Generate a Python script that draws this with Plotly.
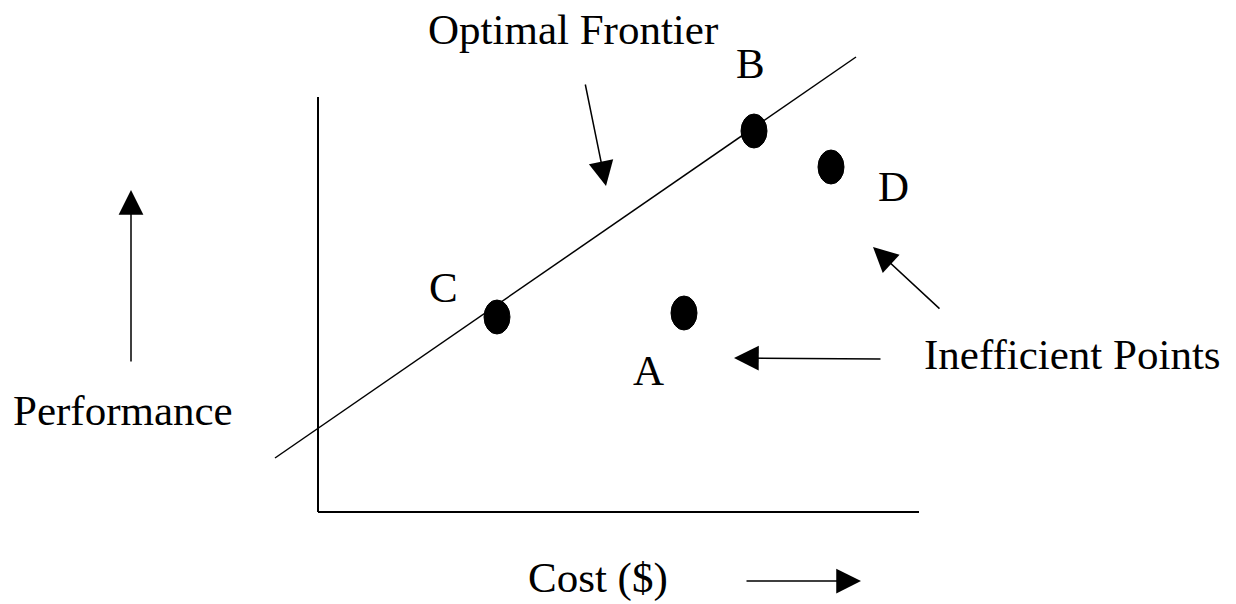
import plotly.graph_objects as go

# Points (pixel-like diagram coordinates, y grows downward)
point_names = ["C", "A", "B", "D"]
point_x = [497, 684, 754, 831]
point_y = [317, 313, 131, 167]

# Labels for points
label_text = ["B", "D", "C", "A"]
label_x = [750, 893, 443, 648]
label_y = [63, 186, 287, 370]

# Frontier line endpoints
frontier_x = [275, 856]
frontier_y = [458, 57]

# Axes lines
axis_v_x = [318, 318]
axis_v_y = [97, 512]
axis_h_x = [318, 919]
axis_h_y = [512, 512]

# Titles
title_text = ["Optimal Frontier", "Inefficient Points", "Performance", "Cost ($)"]
title_x = [573, 1072, 123, 598]
title_y = [29, 354, 410, 578]

# Arrows: tail -> head
arrow_tail_x = [585, 941, 882, 131, 745]
arrow_tail_y = [83, 310, 359, 363, 581]
arrow_head_x = [606, 873, 734, 131, 861]
arrow_head_y = [186, 247, 358, 190, 581]

FONT = "Liberation Serif, Times New Roman, serif"
FS = 43

fig = go.Figure()

fig.add_trace(go.Scatter(x=frontier_x, y=frontier_y, mode="lines",
                         line=dict(color="black", width=1.5), hoverinfo="skip"))
fig.add_trace(go.Scatter(x=axis_v_x, y=axis_v_y, mode="lines",
                         line=dict(color="black", width=2), hoverinfo="skip"))
fig.add_trace(go.Scatter(x=axis_h_x, y=axis_h_y, mode="lines",
                         line=dict(color="black", width=2), hoverinfo="skip"))

# elliptical dots
RX, RY = 13, 17
for px, py in zip(point_x, point_y):
    fig.add_shape(type="circle", xref="x", yref="y",
                  x0=px - RX, x1=px + RX, y0=py - RY, y1=py + RY,
                  fillcolor="black", line=dict(color="black", width=1))

for t, x, y in zip(label_text, label_x, label_y):
    fig.add_annotation(x=x, y=y, text=t, showarrow=False,
                       xanchor="center", yanchor="middle",
                       font=dict(family=FONT, size=FS, color="black"))

for t, x, y in zip(title_text, title_x, title_y):
    fig.add_annotation(x=x, y=y, text=t, showarrow=False,
                       xanchor="center", yanchor="middle",
                       font=dict(family=FONT, size=FS, color="black"))

for tx, ty, hx, hy in zip(arrow_tail_x, arrow_tail_y, arrow_head_x, arrow_head_y):
    fig.add_annotation(x=hx, y=hy, ax=tx, ay=ty, xref="x", yref="y",
                       axref="x", ayref="y", text="", showarrow=True,
                       arrowhead=2, arrowsize=3.3, arrowwidth=1.5,
                       arrowcolor="black", standoff=0, startstandoff=0)

fig.update_xaxes(range=[0, 1236], visible=False, fixedrange=True)
fig.update_yaxes(range=[604, 0], visible=False, fixedrange=True)
fig.update_layout(width=1236, height=604,
                  margin=dict(l=0, r=0, t=0, b=0),
                  paper_bgcolor="white", plot_bgcolor="white", showlegend=False)

fig.write_html("out.html",
               config={"displayModeBar": False, "staticPlot": True},
               post_script="document.body.style.margin='0px';document.body.style.overflow='hidden';")
